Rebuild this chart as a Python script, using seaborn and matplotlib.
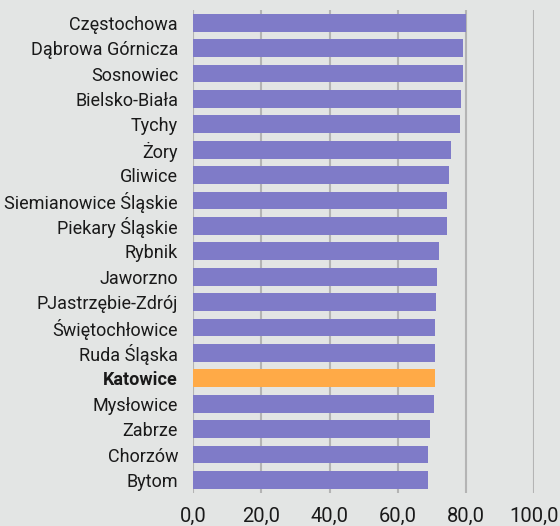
import matplotlib
matplotlib.use("Agg")
from matplotlib import pyplot as plt
import seaborn as sns
import pandas as pd

cities = ["Częstochowa", "Dąbrowa Górnicza", "Sosnowiec", "Bielsko-Biała", "Tychy",
          "Żory", "Gliwice", "Siemianowice Śląskie", "Piekary Śląskie", "Rybnik",
          "Jaworzno", "PJastrzębie-Zdrój", "Świętochłowice", "Ruda Śląska", "Katowice",
          "Mysłowice", "Zabrze", "Chorzów", "Bytom"]
values = [80.0, 79.2, 79.2, 78.6, 78.3, 75.6, 75.1, 74.5, 74.5, 72.1,
          71.5, 71.2, 70.9, 70.9, 70.9, 70.6, 69.5, 68.9, 68.9]
highlight = "Katowice"
xticks = [0, 20, 40, 60, 80, 100]

sns.set_theme(style="white")
plt.rcParams['font.family'] = ['Roboto', 'DejaVu Sans']

bg = "#e3e5e4"
df = pd.DataFrame({"city": cities, "value": values})
palette = {c: ("#ffaa47" if c == highlight else "#7f7bc8") for c in cities}

fig = plt.figure(figsize=(5.6, 5.26), dpi=100, facecolor=bg)
ax = fig.add_axes([0.3452, 0.0633, 0.6084, 0.9177])
ax.set_facecolor(bg)

sns.barplot(data=df, x="value", y="city", hue="city", palette=palette,
            order=cities, width=0.7, legend=False, ax=ax, saturation=1,
            linewidth=0)

ax.set_xlim(0, 100)
ax.set_ylim(len(cities) - 0.5, -0.5)
ax.set_xticks(xticks)
ax.set_xticklabels([f"{v:.1f}".replace(".", ",") for v in xticks])
ax.xaxis.grid(True, color="#b4b4b4", linewidth=1.5)
ax.set_axisbelow(True)
for s in ax.spines.values():
    s.set_visible(False)
ax.tick_params(axis="both", length=0, labelsize=13, colors="#1a1a1a")
ax.tick_params(axis="y", pad=11)
ax.tick_params(axis="x", pad=10, labelsize=14.5)
for lbl in ax.get_yticklabels():
    if lbl.get_text() == highlight:
        lbl.set_fontweight("bold")
ax.set_xlabel("")
ax.set_ylabel("")

fig.savefig("out.png", dpi=100, facecolor=bg)
